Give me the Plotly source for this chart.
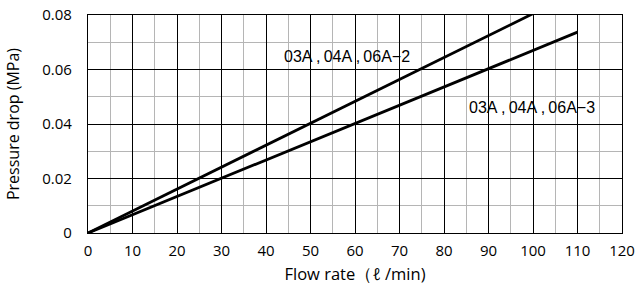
import plotly.graph_objects as go

flow_2 = [0, 100]
drop_2 = [0, 0.0805]
flow_3 = [0, 110]
drop_3 = [0, 0.0737]
label_2 = "03A ,\u200904A ,\u200906A−2"
label_3 = "03A ,\u200904A ,\u200906A−3"
x_ticks = [0, 10, 20, 30, 40, 50, 60, 70, 80, 90, 100, 110, 120]
y_ticks = [0, 0.02, 0.04, 0.06, 0.08]
y_ticktext = ["0", "0.02", "0.04", "0.06", "0.08"]

fig = go.Figure()
fig.add_trace(go.Scatter(x=flow_2, y=drop_2, mode="lines",
                         line=dict(color="black", width=2.8), showlegend=False))
fig.add_trace(go.Scatter(x=flow_3, y=drop_3, mode="lines",
                         line=dict(color="black", width=2.8), showlegend=False))

ann_font = dict(family="Liberation Sans", size=16, color="black")
fig.add_annotation(x=58.2, y=0.0646, text=label_2, showarrow=False, font=ann_font)
fig.add_annotation(x=99.8, y=0.0462, text=label_3, showarrow=False, font=ann_font)

axis_common = dict(showline=True, linecolor="black", linewidth=1.2, mirror=True,
                   showgrid=True, gridcolor="black", gridwidth=1, zeroline=False,
                   tickfont=dict(family="Open Sans", size=15, color="black"),
                   ticks="", automargin=False, ticklabeloverflow="allow")
fig.update_xaxes(range=[0, 120], tickvals=x_ticks,
                 minor=dict(dtick=5, showgrid=True, gridcolor="#b5b5b5", gridwidth=1),
                 title=dict(text="Flow rate（ℓ /min)", standoff=9,
                            font=dict(family="Open Sans", size=16.5, color="black")),
                 ticklabelstandoff=4, **axis_common)
fig.update_yaxes(range=[0, 0.08], tickvals=y_ticks, ticktext=y_ticktext,
                 minor=dict(dtick=0.01, showgrid=True, gridcolor="#b5b5b5", gridwidth=1),
                 title=dict(text="Pressure drop (MPa)", standoff=18,
                            font=dict(family="Open Sans", size=16, color="black")),
                 ticklabelstandoff=12, **axis_common)

fig.update_layout(width=635, height=286, margin=dict(l=88, r=13, t=15, b=53),
                  plot_bgcolor="white", paper_bgcolor="white")
# remove the page's default body margin so the figure fills the window exactly
fig.write_html("out.html", config={"displayModeBar": False},
               post_script="document.body.style.margin='0';document.body.style.overflow='hidden';")
